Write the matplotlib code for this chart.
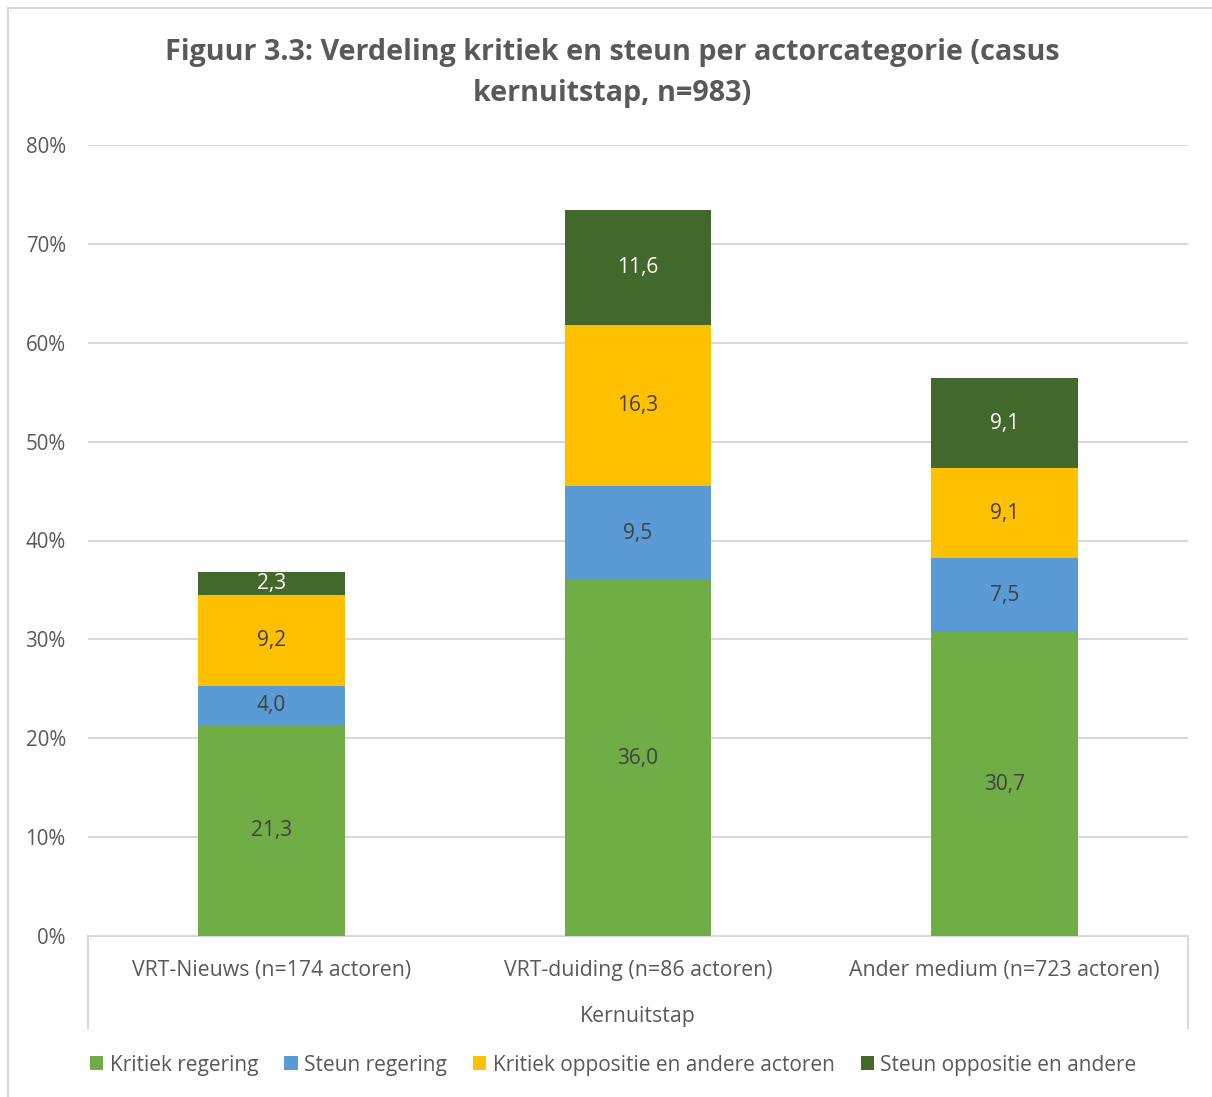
import numpy as np
import matplotlib.pyplot as plt
from matplotlib.lines import Line2D
from matplotlib.patches import Rectangle
from matplotlib.ticker import FuncFormatter

plt.rcParams['font.family'] = ['Open Sans', 'DejaVu Sans']

categories = ['VRT-Nieuws (n=174 actoren)', 'VRT-duiding (n=86 actoren)', 'Ander medium (n=723 actoren)']
series = ['Kritiek regering', 'Steun regering', 'Kritiek oppositie en andere actoren', 'Steun oppositie en andere']
kritiek_regering = [21.3, 36.0, 30.7]
steun_regering = [4.0, 9.5, 7.5]
kritiek_oppositie = [9.2, 16.3, 9.1]
steun_oppositie = [2.3, 11.6, 9.1]
values = [kritiek_regering, steun_regering, kritiek_oppositie, steun_oppositie]
colors = ['#70AD47', '#5B9BD5', '#FFC000', '#43682B']
label_colors = ['#404040', '#404040', '#404040', 'white']

txt = '#595959'
grid = '#D9D9D9'

fig = plt.figure(figsize=(12.12, 10.97), dpi=100)
ax = fig.add_axes([88/1212, 1 - 936/1097, 1100/1212, 791/1097])

x = np.arange(len(categories))
bottom = np.zeros(len(categories))
for vals, col, lc, name in zip(values, colors, label_colors, series):
    bars = ax.bar(x, vals, 0.40, bottom=bottom, color=col, label=name, zorder=3)
    for xi, b, v in zip(x, bottom, vals):
        ax.text(xi, b + v / 2, f'{v:.1f}'.replace('.', ','), ha='center', va='center',
                fontsize=15, color=lc, zorder=4)
    bottom += np.array(vals)

ax.set_xlim(-0.5, 2.5)
ax.set_ylim(0, 80)
ax.set_yticks(np.arange(0, 81, 10))
ax.yaxis.set_major_formatter(FuncFormatter(lambda v, p: f'{v:.0f}%'))
ax.grid(axis='y', color=grid, linewidth=1.5, zorder=0)
ax.set_axisbelow(True)
for s in ['top', 'right', 'left']:
    ax.spines[s].set_visible(False)
ax.spines['bottom'].set_color(grid)
ax.spines['bottom'].set_linewidth(1.5)
ax.tick_params(axis='y', length=0, pad=16, labelsize=14.8, labelcolor=txt)
ax.tick_params(axis='x', length=0, pad=17, labelsize=15.3, labelcolor=txt)
ax.set_xticks(x)
ax.set_xticklabels(categories)
ax.set_xlabel('Kernuitstap', fontsize=15.3, color=txt, labelpad=18)

# category axis side lines
for xp in [88, 1188]:
    fig.add_artist(Line2D([xp / 1212, xp / 1212], [1 - 936/1097, 1 - 1028/1097],
                          color=grid, linewidth=1.5))

fig.text(0.505, 1 - 73/1097, 'Figuur 3.3: Verdeling kritiek en steun per actorcategorie (casus\nkernuitstap, n=983)',
         ha='center', va='center', fontsize=20.7, fontweight='bold', color=txt, linespacing=1.58)

leg = fig.legend(loc='center', bbox_to_anchor=(0.506, 1 - 1065/1097), ncol=4, frameon=False,
                 fontsize=15.0, handlelength=0.65, handleheight=0.65, handletextpad=0.3,
                 columnspacing=1.25, labelcolor=txt)

fig.add_artist(Rectangle((8/1212, -0.1), 1.2, 1.1 - 8/1097, transform=fig.transFigure,
                         fill=False, edgecolor=grid, linewidth=1.5))

fig.savefig('out.png', dpi=100)
